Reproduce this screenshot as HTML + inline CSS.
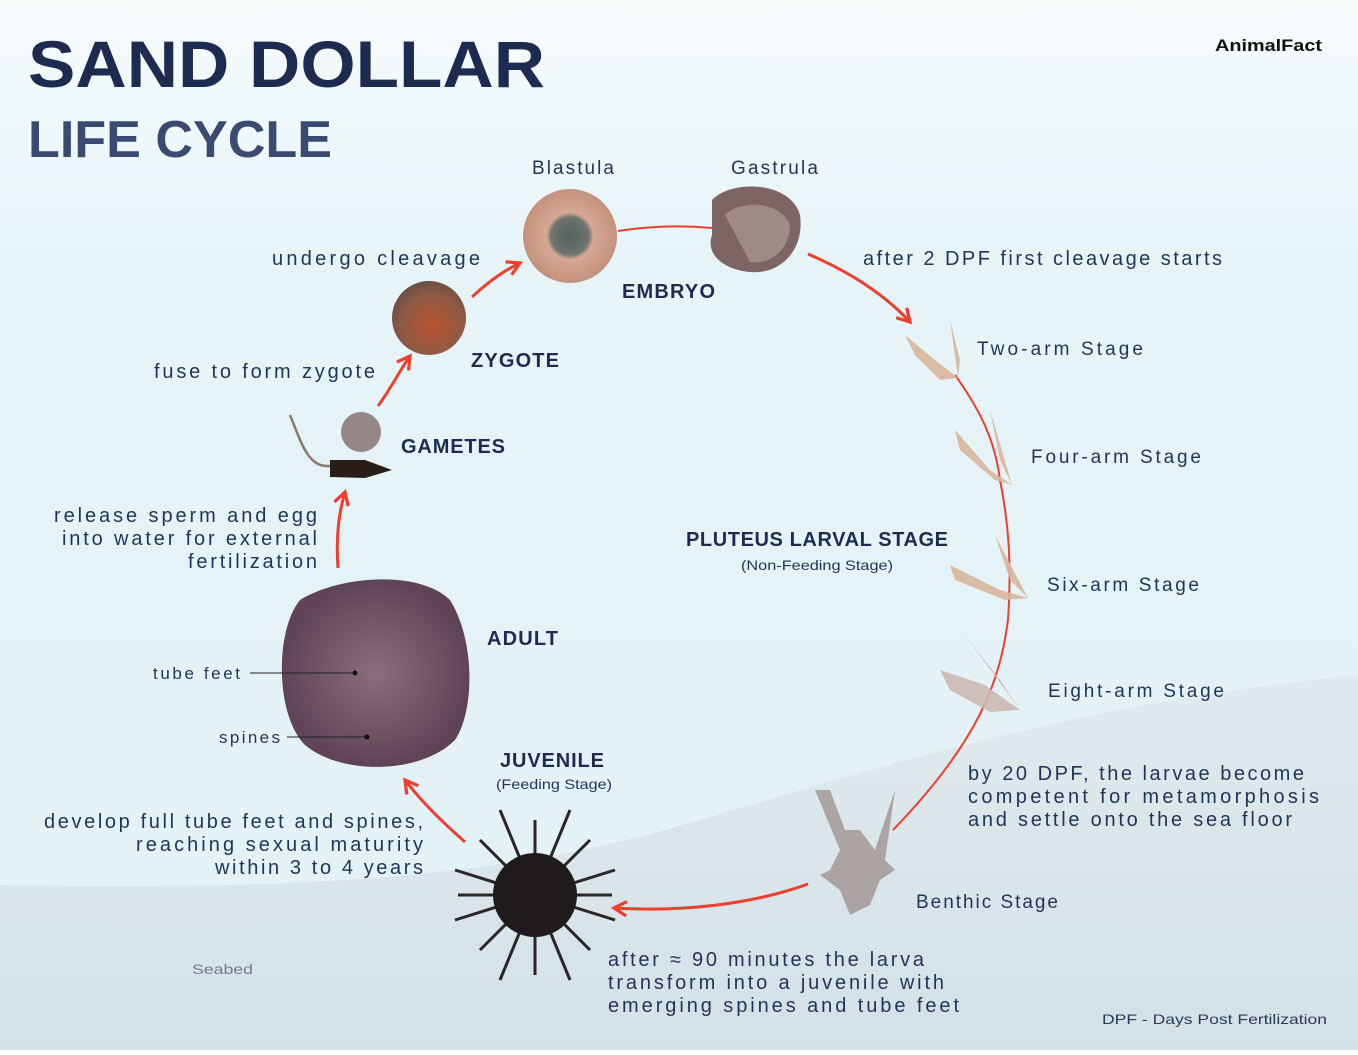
<!DOCTYPE html>
<html><head><meta charset="utf-8"><style>
html,body{margin:0;padding:0}
body{width:1358px;height:1050px;overflow:hidden;font-family:"Liberation Sans",sans-serif}
svg text{font-family:"Liberation Sans",sans-serif}
</style></head><body>
<svg width="1358" height="1050" viewBox="0 0 1358 1050" xmlns="http://www.w3.org/2000/svg">
<defs>
<linearGradient id="bg" x1="0" y1="0" x2="0" y2="1">
<stop offset="0" stop-color="#f7fbfc"/><stop offset="0.25" stop-color="#e6f4f8"/><stop offset="1" stop-color="#e2f1f6"/></linearGradient>
<linearGradient id="sea" x1="0" y1="0" x2="0" y2="1">
<stop offset="0" stop-color="#e0eaee"/><stop offset="1" stop-color="#d3e1e6"/></linearGradient>
<radialGradient id="zy" cx="0.55" cy="0.6" r="0.6"><stop offset="0" stop-color="#b8532f"/><stop offset="0.7" stop-color="#8e5a45"/><stop offset="1" stop-color="#6a5047"/></radialGradient>
<radialGradient id="bl" cx="0.5" cy="0.5" r="0.5"><stop offset="0" stop-color="#55605c"/><stop offset="0.4" stop-color="#6f7470"/><stop offset="0.5" stop-color="#d6a894"/><stop offset="1" stop-color="#c4917c"/></radialGradient>
<radialGradient id="ad" cx="0.5" cy="0.5" r="0.5"><stop offset="0" stop-color="#8a6e7c"/><stop offset="1" stop-color="#5f4455"/></radialGradient>
<marker id="ah" viewBox="0 0 10 10" refX="8" refY="5" markerWidth="6" markerHeight="6" orient="auto"><path d="M1 1 L8 5 L1 9" fill="none" stroke="#ee3f2e" stroke-width="1.8"/></marker>
</defs>
<rect width="1358" height="1050" fill="url(#bg)"/>
<path d="M0 885 C300 890 500 880 700 820 C900 760 1100 700 1358 675 L1358 1050 L0 1050Z" fill="url(#sea)"/>

<text x="28" y="87" font-size="66" font-weight="bold" fill="#1d2b50" textLength="517" lengthAdjust="spacingAndGlyphs">SAND DOLLAR</text>
<text x="28" y="157" font-size="52" font-weight="bold" fill="#3b4a70" textLength="304" lengthAdjust="spacingAndGlyphs">LIFE CYCLE</text>
<text x="1215" y="51" font-size="17" font-weight="bold" fill="#111" textLength="107" lengthAdjust="spacingAndGlyphs">AnimalFact</text>

<g fill="none" stroke="#ee3f2e" stroke-width="3" marker-end="url(#ah)">
<path d="M338 568 C336 540 338 515 345 492"/>
<path d="M378 406 C390 390 400 370 410 356"/>
<path d="M472 297 C490 280 505 270 520 263"/>
<path d="M808 254 C850 272 885 295 910 322"/>
<path d="M808 884 C750 905 680 912 614 908"/>
<path d="M465 842 C440 820 420 800 405 780"/>
</g>
<g fill="none" stroke="#ee3f2e" stroke-width="2">
<path d="M618 231 C650 226 680 225 712 228"/>
<path d="M955 375 C980 410 995 440 1000 480 C1008 520 1012 560 1008 620 C1000 680 980 740 893 830"/>
</g>

<path d="M290 415 C300 440 305 455 315 462 C320 466 325 466 330 466" fill="none" stroke="#8c7a70" stroke-width="2.5"/>
<path d="M330 460 L365 460 L392 470 L365 478 L330 477Z" fill="#2a1d18"/>
<circle cx="361" cy="432" r="20" fill="#958886"/>
<circle cx="429" cy="318" r="37" fill="url(#zy)"/>
<circle cx="570" cy="236" r="47" fill="url(#bl)"/>
<path d="M712 200 C730 180 790 180 800 215 C805 250 780 275 750 272 C725 270 705 255 712 235Z" fill="#7c6563"/>
<path d="M725 215 C740 200 780 200 790 225 C790 250 770 265 750 262" fill="#9e8a88"/>

<g fill="#d9b79a" opacity="0.9">
<path d="M905 335 L935 360 L958 378 L940 380 L915 355Z"/>
<path d="M950 320 L960 360 L958 378 Z" />
<path d="M955 430 L990 470 L1012 485 L995 480 L960 450Z"/>
<path d="M990 410 L1000 460 L1012 485Z"/>
<path d="M950 565 L1000 590 L1028 598 L1005 600 L955 580Z"/>
<path d="M995 535 L1010 580 L1028 598Z"/>
<path d="M940 670 L985 685 L1020 710 L990 712 L950 690Z" fill="#cbbab2"/>
<path d="M965 635 L1000 680 L1020 710Z" fill="#cbbab2"/>
</g>
<path d="M815 790 L840 850 L830 870 L820 875 L840 890 L850 915 L870 905 L880 880 L895 870 L885 860 L895 790 L875 850 L860 830 L845 830 L830 790Z" fill="#a09291" opacity="0.8"/>

<g stroke="#2a2628" stroke-width="3">
<path d="M535 820 L535 975 M458 895 L612 895 M480 840 L590 950 M590 840 L480 950 M500 810 L570 980 M570 810 L500 980 M455 870 L615 920 M455 920 L615 870"/>
</g>
<circle cx="535" cy="895" r="42" fill="#1f1b1d"/>

<path d="M300 600 C340 575 420 570 450 600 C475 640 475 710 455 740 C420 775 340 775 305 745 C275 715 275 630 300 600Z" fill="url(#ad)"/>
<g stroke="#222" stroke-width="1"><line x1="250" y1="673" x2="355" y2="673"/><line x1="287" y1="737" x2="367" y2="737"/></g>
<circle cx="355" cy="673" r="2.5" fill="#111"/><circle cx="367" cy="737" r="2.5" fill="#111"/>

<g fill="#1e3555" font-size="20" lengthAdjust="spacingAndGlyphs">
<text x="532" y="174" font-size="19" textLength="82">Blastula</text>
<text x="731" y="174" font-size="19" textLength="87">Gastrula</text>
<text x="272" y="265" textLength="208">undergo cleavage</text>
<text x="154" y="378" textLength="221">fuse to form zygote</text>
<text x="863" y="265" textLength="359">after 2 DPF first cleavage starts</text>
<text x="977" y="355" font-size="19" textLength="166">Two-arm Stage</text>
<text x="1031" y="463" font-size="19" textLength="170">Four-arm Stage</text>
<text x="1047" y="591" font-size="19" textLength="152">Six-arm Stage</text>
<text x="1048" y="697" font-size="19" textLength="176">Eight-arm Stage</text>
<text x="916" y="908" font-size="19" textLength="142">Benthic Stage</text>
<text x="54" y="522" textLength="263">release sperm and egg</text>
<text x="62" y="545" textLength="255">into water for external</text>
<text x="188" y="568" textLength="129">fertilization</text>
<text x="968" y="780" textLength="336">by 20 DPF, the larvae become</text>
<text x="968" y="803" textLength="351">competent for metamorphosis</text>
<text x="968" y="826" textLength="324">and settle onto the sea floor</text>
<text x="44" y="828" textLength="379">develop full tube feet and spines,</text>
<text x="136" y="851" textLength="287">reaching sexual maturity</text>
<text x="215" y="874" textLength="208">within 3 to 4 years</text>
<text x="608" y="966" textLength="316">after ≈ 90 minutes the larva</text>
<text x="608" y="989" textLength="336">transform into a juvenile with</text>
<text x="608" y="1012" textLength="351">emerging spines and tube feet</text>
<text x="153" y="679" font-size="17" textLength="87">tube feet</text>
<text x="219" y="743" font-size="17" textLength="61">spines</text>
</g>
<g fill="#1d2b50" font-weight="bold" font-size="20" lengthAdjust="spacingAndGlyphs">
<text x="622" y="298" textLength="93">EMBRYO</text>
<text x="471" y="367" textLength="88">ZYGOTE</text>
<text x="401" y="453" textLength="104">GAMETES</text>
<text x="487" y="645" textLength="71">ADULT</text>
<text x="500" y="767" textLength="104">JUVENILE</text>
<text x="686" y="546" textLength="262">PLUTEUS LARVAL STAGE</text>
</g>
<text x="741" y="570" font-size="14" fill="#1e3555" textLength="152" lengthAdjust="spacingAndGlyphs">(Non-Feeding Stage)</text>
<text x="496" y="789" font-size="14" fill="#1e3555" textLength="116" lengthAdjust="spacingAndGlyphs">(Feeding Stage)</text>
<text x="192" y="974" font-size="14" fill="#6d7f8e" textLength="61" lengthAdjust="spacingAndGlyphs">Seabed</text>
<text x="1102" y="1024" font-size="14" fill="#2a3a5a" textLength="225" lengthAdjust="spacingAndGlyphs">DPF - Days Post Fertilization</text>
</svg>
</body></html>
